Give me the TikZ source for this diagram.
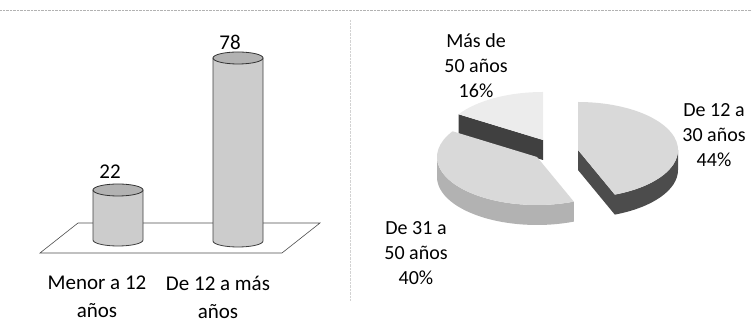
\documentclass[tikz,border=0pt]{standalone}
\usepackage{fontspec}
\setmainfont{Carlito}
\tikzset{
  barra/.style={fill=gray!40, draw=black!75, line width=0.8pt},
  tapa/.style={fill=gray!60, draw=black!80, line width=0.8pt},
  cara/.style={fill=gray!30},
  lado/.style={fill=black!70},
  etiq/.style={align=center, inner sep=0pt, font=\fontsize{20}{25}\selectfont},
  cat/.style={align=center, inner sep=0pt, font=\fontsize{21}{28}\selectfont},
}
\begin{document}
\begin{tikzpicture}[x=1pt,y=1pt]
\useasboundingbox (0,0) rectangle (752,331);
% marco
\draw[gray!60, densely dotted] (0,321) -- (752,321);
\draw[gray!35, densely dotted] (350,311) -- (350,30);

% piso
\draw[black!70, line width=0.6pt] (78,108) -- (320,108) -- (282,78) -- (40,78) -- cycle;

% barras
\path[barra] (93,141) -- (93,91) arc[start angle=180, end angle=360, x radius=25pt, y radius=6pt] -- (143,141) -- cycle;
\path[tapa] (118,141) ellipse[x radius=25pt, y radius=6pt];
\path[barra] (213,273) -- (213,90) arc[start angle=180, end angle=360, x radius=25pt, y radius=6pt] -- (263,273) -- cycle;
\path[tapa] (238,273) ellipse[x radius=25pt, y radius=6pt];

\node[cat] (v1) at (110,159) {22};
\node[cat] (v2) at (230,289) {78};
\node[cat] (c1) at (97,34) {Menor a 12\\años};
\node[cat] (c2) at (218,34) {De 12 a más\\años};

% torta
% 16%
\path[lado, fill=black!75] (543,191) -- ++(147.6:100pt and 48pt) -- ++(0,-20) -- (543,171) -- cycle;
\path[cara, fill=gray!15] (543,191) -- ++(90:100pt and 48pt) arc[start angle=90, end angle=147.6, x radius=100pt, y radius=48pt] -- cycle;
% 40%
\path[lado, fill=gray!60] (537,174) ++(180:100pt and 48pt) -- ++(0,-20) arc[start angle=180, end angle=291.6, x radius=100pt, y radius=48pt] -- ++(0,20) arc[start angle=291.6, end angle=180, x radius=100pt, y radius=48pt] -- cycle;
\path[cara] (537,174) -- ++(147.6:100pt and 48pt) arc[start angle=147.6, end angle=291.6, x radius=100pt, y radius=48pt] -- cycle;
% 44%
\path[lado] (578,181) -- ++(0,-20) -- ++(-68.4:100pt and 48pt) arc[start angle=-68.4, end angle=0, x radius=100pt, y radius=48pt] -- ++(0,20) arc[start angle=0, end angle=-68.4, x radius=100pt, y radius=48pt] -- cycle;
\path[cara] (578,181) -- ++(-68.4:100pt and 48pt) arc[start angle=-68.4, end angle=90, x radius=100pt, y radius=48pt] -- cycle;

\node[etiq] (p16) at (476,265) {Más de\\50 años\\16\%};
\node[etiq] (p44) at (714,196) {De 12 a\\30 años\\44\%};
\node[etiq] (p40) at (416,78) {De 31 a\\50 años\\40\%};
\end{tikzpicture}
\end{document}
